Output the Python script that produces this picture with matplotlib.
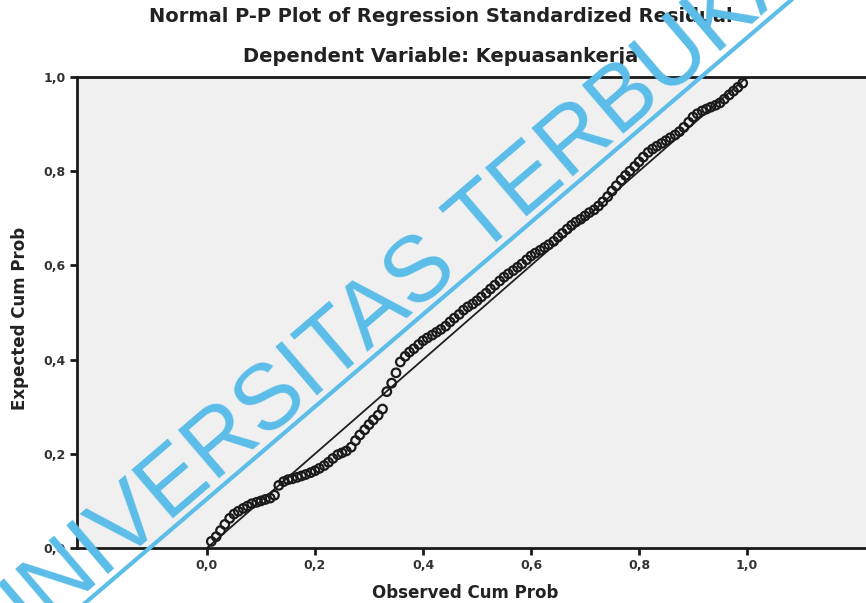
import numpy as np
import matplotlib.pyplot as plt

plt.rcParams['font.family'] = ['DejaVu Sans']

# observed cumulative probability (x) and expected cumulative probability (y)
observed = [0.008, 0.017, 0.025, 0.033, 0.042, 0.050, 0.058, 0.067, 0.075, 0.083, 0.092, 0.100,
            0.108, 0.117, 0.125, 0.133, 0.142, 0.150, 0.158, 0.167, 0.175, 0.183, 0.192, 0.200,
            0.208, 0.217, 0.225, 0.233, 0.242, 0.250, 0.258, 0.267, 0.275, 0.283, 0.292, 0.300,
            0.308, 0.317, 0.325, 0.333, 0.342, 0.350, 0.358, 0.367, 0.375, 0.383, 0.392, 0.400,
            0.408, 0.417, 0.425, 0.433, 0.442, 0.450, 0.458, 0.467, 0.475, 0.483, 0.492, 0.500,
            0.508, 0.517, 0.525, 0.533, 0.542, 0.550, 0.558, 0.567, 0.575, 0.583, 0.592, 0.600,
            0.608, 0.617, 0.625, 0.633, 0.642, 0.650, 0.658, 0.667, 0.675, 0.683, 0.692, 0.700,
            0.708, 0.717, 0.725, 0.733, 0.742, 0.750, 0.758, 0.767, 0.775, 0.783, 0.792, 0.800,
            0.808, 0.817, 0.825, 0.833, 0.842, 0.850, 0.858, 0.867, 0.875, 0.883, 0.892, 0.900,
            0.908, 0.917, 0.925, 0.933, 0.942, 0.950, 0.958, 0.967, 0.975, 0.983, 0.992]
expected = [0.014, 0.024, 0.037, 0.050, 0.063, 0.072, 0.078, 0.084, 0.089, 0.094, 0.097, 0.100,
            0.103, 0.106, 0.112, 0.133, 0.141, 0.145, 0.147, 0.150, 0.153, 0.156, 0.160, 0.164,
            0.169, 0.175, 0.182, 0.190, 0.198, 0.202, 0.206, 0.214, 0.228, 0.240, 0.251, 0.262,
            0.272, 0.282, 0.295, 0.332, 0.350, 0.372, 0.395, 0.407, 0.416, 0.423, 0.432, 0.440,
            0.446, 0.452, 0.458, 0.464, 0.471, 0.480, 0.488, 0.496, 0.505, 0.512, 0.518, 0.525,
            0.533, 0.541, 0.550, 0.558, 0.567, 0.575, 0.582, 0.589, 0.596, 0.603, 0.612, 0.620,
            0.626, 0.632, 0.638, 0.644, 0.651, 0.660, 0.668, 0.677, 0.685, 0.692, 0.698, 0.705,
            0.712, 0.718, 0.726, 0.735, 0.746, 0.758, 0.769, 0.781, 0.791, 0.800, 0.810, 0.820,
            0.830, 0.840, 0.847, 0.853, 0.859, 0.865, 0.871, 0.877, 0.884, 0.893, 0.904, 0.915,
            0.922, 0.928, 0.932, 0.936, 0.940, 0.945, 0.953, 0.962, 0.970, 0.978, 0.987]

ticks = [0.0, 0.2, 0.4, 0.6, 0.8, 1.0]
tick_labels = ['0,0', '0,2', '0,4', '0,6', '0,8', '1,0']

W, H = 866, 603
fig = plt.figure(figsize=(W / 100, H / 100), dpi=100)
ax = fig.add_axes([77 / W, 55 / H, 789 / W, 471 / H])
ax.set_facecolor('#f0f0f0')

ax.plot([0, 1], [0, 1], color='#202020', lw=1.3, zorder=2)
ax.scatter(observed, expected, s=38, facecolors='none', edgecolors='#1a1a1a',
           linewidths=1.6, zorder=3)

ax.set_xlim(-130 / 540, 659 / 540)
ax.set_ylim(0, 1)
ax.set_xticks(ticks)
ax.set_xticklabels(tick_labels)
ax.set_yticks(ticks)
ax.set_yticklabels(tick_labels)
ax.tick_params(direction='out', length=5, width=2, labelsize=9, pad=3, color='#1a1a1a')
for lab in ax.get_xticklabels() + ax.get_yticklabels():
    lab.set_fontweight('bold')
    lab.set_color('#333333')

for side in ['left', 'top', 'bottom']:
    ax.spines[side].set_linewidth(2)
    ax.spines[side].set_color('#1a1a1a')
ax.spines['right'].set_visible(False)

ax.set_xlabel('Observed Cum Prob', fontsize=12, fontweight='bold', color='#222222')
ax.set_ylabel('Expected Cum Prob', fontsize=12, fontweight='bold', color='#222222')
ax.xaxis.set_label_coords((465 - 77) / 789, -(584 - 548) / 471)
ax.yaxis.set_label_coords(-(77 - 29) / 789, (548 - 318) / 471)

fig.text(441 / W, 1 - 17 / H, 'Normal P-P Plot of Regression Standardized Residual',
         ha='center', va='center', fontsize=14, fontweight='bold', color='#222222')
fig.text(441 / W, 1 - 57 / H, 'Dependent Variable: Kepuasankerja',
         ha='center', va='center', fontsize=14, fontweight='bold', color='#222222')

# watermark (positions in pixels from the top-left corner)
ang = 40.5
wm_color = '#5bbde8'
d = np.array([np.cos(np.radians(ang)), -np.sin(np.radians(ang))])
up = np.array([-np.sin(np.radians(ang)), -np.cos(np.radians(ang))])
center = np.array([383.0, 296.0])
cap = 66 * 100 / 72 * 0.716
base = center - up * cap / 2
line_mid = center - up * 40
line_a = line_mid - d * 600
line_b = line_mid + d * 600


def to_fig(p):
    return p[0] / W, 1 - p[1] / H


(xa, ya), (xb, yb) = to_fig(line_a), to_fig(line_b)
fig.add_artist(plt.Line2D([xa, xb], [ya, yb], transform=fig.transFigure,
                          color=wm_color, lw=3, zorder=10))
bx, by = to_fig(base)
fig.text(bx, by, 'UNIVERSITAS TERBUKA', rotation=ang, rotation_mode='anchor',
         ha='center', va='baseline', fontsize=66, color=wm_color, zorder=10,
         family='Liberation Sans')

fig.savefig('out.png', dpi=100)
